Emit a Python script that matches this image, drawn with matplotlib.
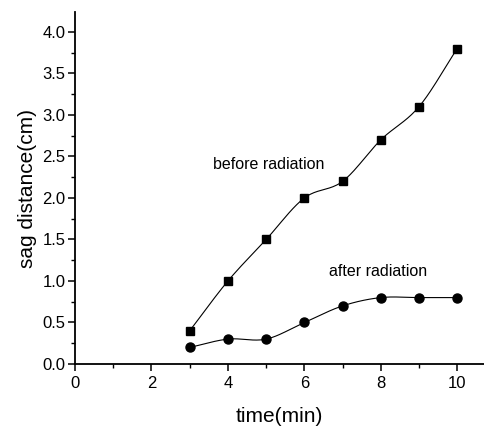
import numpy as np
import matplotlib
matplotlib.use("Agg")
import matplotlib.pyplot as plt
from matplotlib.ticker import MultipleLocator, FormatStrFormatter

time_min = [3, 4, 5, 6, 7, 8, 9, 10]
before_radiation = [0.4, 1.0, 1.5, 2.0, 2.2, 2.7, 3.1, 3.8]
after_radiation = [0.2, 0.3, 0.3, 0.5, 0.7, 0.8, 0.8, 0.8]


def smooth(x, y, n=20):
    # Catmull-Rom curve through the points, only used to draw the line
    x = np.asarray(x, float)
    y = np.asarray(y, float)
    px = np.concatenate([[2 * x[0] - x[1]], x, [2 * x[-1] - x[-2]]])
    py = np.concatenate([[2 * y[0] - y[1]], y, [2 * y[-1] - y[-2]]])
    t = np.linspace(0, 1, n, endpoint=False)
    xs, ys = [], []
    for i in range(1, len(px) - 2):
        for p, out in ((px, xs), (py, ys)):
            p0, p1, p2, p3 = p[i - 1], p[i], p[i + 1], p[i + 2]
            out.extend(0.5 * (2 * p1 + (-p0 + p2) * t
                              + (2 * p0 - 5 * p1 + 4 * p2 - p3) * t ** 2
                              + (-p0 + 3 * p1 - 3 * p2 + p3) * t ** 3))
    xs.append(x[-1])
    ys.append(y[-1])
    return xs, ys


plt.rcParams['font.family'] = ['Liberation Sans', 'DejaVu Sans']

fig = plt.figure(figsize=(4.84, 4.29), dpi=100)
ax = fig.add_axes([0.155, 0.1515, 0.845, 0.8205])

bx, by = smooth(time_min, before_radiation)
ax.plot(bx, by, color='black', lw=0.8)
ax.plot(time_min, before_radiation, 's', color='black', ms=6)

ax_, ay = smooth(time_min, after_radiation)
ax.plot(ax_, ay, color='black', lw=0.8)
ax.plot(time_min, after_radiation, 'o', color='black', ms=6.5)

ax.text(3.62, 2.40, 'before radiation', fontsize=11.5, va='center', ha='left')
ax.text(6.64, 1.11, 'after radiation', fontsize=11.5, va='center', ha='left')

ax.set_xlim(0, 10.7)
ax.set_ylim(0, 4.24)
ax.xaxis.set_major_locator(MultipleLocator(2))
ax.xaxis.set_minor_locator(MultipleLocator(1))
ax.yaxis.set_major_locator(MultipleLocator(0.5))
ax.yaxis.set_minor_locator(MultipleLocator(0.25))
ax.yaxis.set_major_formatter(FormatStrFormatter('%.1f'))

ax.spines['top'].set_visible(False)
ax.spines['right'].set_visible(False)
ax.spines['left'].set_linewidth(1.3)
ax.spines['bottom'].set_linewidth(1.3)
ax.tick_params(which='major', direction='out', length=5, width=1.1, labelsize=12)
ax.tick_params(axis='y', which='major', pad=2)
ax.tick_params(which='minor', direction='out', length=3, width=1.0)

ax.set_xlabel('time(min)', fontsize=15, labelpad=12)
ax.set_ylabel('sag distance(cm)', fontsize=15, labelpad=4)

fig.savefig('out.png', dpi=100)
